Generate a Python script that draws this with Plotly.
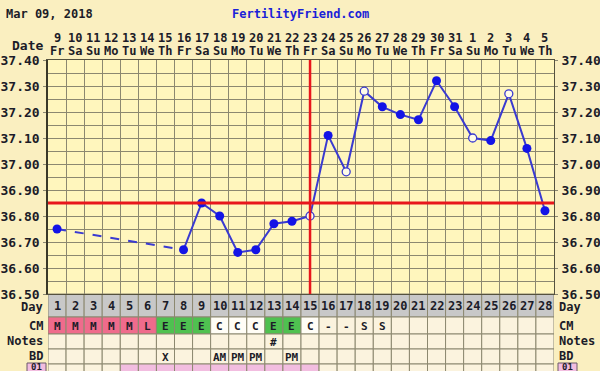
import plotly.graph_objects as go

# ---------------- data ----------------
days = list(range(1, 29))
dates = ['9', '10', '11', '12', '13', '14', '15', '16', '17', '18', '19', '20', '21', '22',
         '23', '24', '25', '26', '27', '28', '29', '30', '31', '1', '2', '3', '4', '5']
weekdays = ['Fr', 'Sa', 'Su', 'Mo', 'Tu', 'We', 'Th'] * 4
temps = [36.75, None, None, None, None, None, None, 36.67, 36.85, 36.80, 36.66, 36.67,
         36.77, 36.78, 36.80, 37.11, 36.97, 37.28, 37.22, 37.19, 37.17, 37.32, 37.22,
         37.10, 37.09, 37.27, 37.06, 36.82]
open_days = [15, 17, 18, 24, 26]
cm = ['M', 'M', 'M', 'M', 'M', 'L', 'E', 'E', 'E', 'C', 'C', 'C', 'E', 'E', 'C', '-', '-',
      'S', 'S', '', '', '', '', '', '', '', '', '']
notes = ['', '', '', '', '', '', '', '', '', '', '', '', '#', '', '', '', '', '', '', '', '',
         '', '', '', '', '', '', '']
bd = ['', '', '', '', '', '', 'X', '', '', 'AM', 'PM', 'PM', '', 'PM', '', '', '', '', '', '',
      '', '', '', '', '', '', '', '']
row01_marked = [0, 0, 0, 0, 1, 1, 1, 1, 1, 1, 1, 1, 1, 1, 1, 0, 0, 0, 0, 0, 0, 0, 0, 0, 0, 0, 0, 0]
ytick_vals = [36.50, 36.60, 36.70, 36.80, 36.90, 37.00, 37.10, 37.20, 37.30, 37.40]
ovulation_day = 15
coverline = 36.85
chart_date = 'Mar 09, 2018'
site = 'FertilityFriend.com'

# ---------------- geometry / style ----------------
W, H = 600, 371
ML, MR, MT, MB = 48, 46, 60, 77
PH = H - MT - MB
PW = W - ML - MR
def py(p):
    return (H - MB - p) / PH
def px(p):
    return (p - ML) / PW

FONT = 'DejaVu Sans Mono'
DARK = '#1c1c28'
GRID = '#8c8870'
BLUE_LINE = '#3a3ad0'
BLUE_DOT = '#1414e6'
RED = '#e8161c'
CREAM = '#fbf3de'
GRAY = '#c8c8c8'
PINK = '#ef6b8c'
GREEN = '#4fc150'
WHITE_C = '#fffdf6'
PINK01 = '#f2bde0'

fig = go.Figure()

# dashed segment over missing days, solid afterwards
fig.add_trace(go.Scatter(x=days[:8], y=temps[:8], mode='lines', connectgaps=True,
                         line=dict(color=BLUE_LINE, width=2, dash='dash'),
                         hoverinfo='skip', showlegend=False))
fig.add_trace(go.Scatter(x=days[7:], y=temps[7:], mode='lines',
                         line=dict(color=BLUE_LINE, width=2),
                         hoverinfo='skip', showlegend=False))
fx = [d for d, t in zip(days, temps) if t is not None and d not in open_days]
fy = [t for d, t in zip(days, temps) if t is not None and d not in open_days]
ox = [d for d, t in zip(days, temps) if t is not None and d in open_days]
oy = [t for d, t in zip(days, temps) if t is not None and d in open_days]
fig.add_trace(go.Scatter(x=fx, y=fy, mode='markers',
                         marker=dict(color=BLUE_DOT, size=9, line=dict(color=BLUE_DOT, width=0)),
                         showlegend=False))
fig.add_trace(go.Scatter(x=ox, y=oy, mode='markers',
                         marker=dict(color='#fffbe8', size=8, line=dict(color=BLUE_LINE, width=1.3)),
                         showlegend=False))
# invisible trace for right axis
fig.add_trace(go.Scatter(x=[days[0]], y=[ytick_vals[0]], yaxis='y2', mode='markers',
                         marker=dict(opacity=0), hoverinfo='skip', showlegend=False))

shapes = []
# coverline and ovulation line
shapes.append(dict(type='line', xref='paper', yref='y', x0=0, x1=1, y0=coverline, y1=coverline,
                   line=dict(color=RED, width=3)))
shapes.append(dict(type='line', xref='x', yref='paper', x0=ovulation_day, x1=ovulation_day,
                   y0=0, y1=1, line=dict(color=RED, width=2.5)))

# table rows
row_edges = [294, 317, 334, 349, 364, 382]
annotations = []
for i, d in enumerate(days):
    fills = [GRAY,
             {'M': PINK, 'L': PINK, 'E': GREEN, 'C': WHITE_C}.get(cm[i], CREAM),
             CREAM, CREAM,
             PINK01 if row01_marked[i] else CREAM]
    for r in range(5):
        shapes.append(dict(type='rect', xref='x', yref='paper', x0=d - 0.5, x1=d + 0.5,
                           y0=py(row_edges[r + 1]), y1=py(row_edges[r]), fillcolor=fills[r],
                           line=dict(color=GRID, width=1), layer='below'))
    texts = [str(d), cm[i], notes[i], bd[i]]
    for r, t in enumerate(texts):
        if t:
            annotations.append(dict(x=d, y=py((row_edges[r] + row_edges[r + 1]) / 2 + 0.5),
                                    xref='x', yref='paper', text='<b>%s</b>' % t,
                                    showarrow=False, xanchor='center', yanchor='middle',
                                    font=dict(family=FONT, size=12 if r == 0 else 11, color=DARK)))
    # header dates / weekdays
    annotations.append(dict(x=d, y=py(38), xref='x', yref='paper', text='<b>%s</b>' % dates[i],
                            showarrow=False, xanchor='center', yanchor='middle',
                            font=dict(family=FONT, size=12, color=DARK)))
    annotations.append(dict(x=d, y=py(51), xref='x', yref='paper', text='<b>%s</b>' % weekdays[i],
                            showarrow=False, xanchor='center', yanchor='middle',
                            font=dict(family=FONT, size=12, color=DARK)))

# row labels left and right
labels = [('Day', 307), ('CM', 326), ('Notes', 341), ('BD', 356)]
for t, yy in labels:
    annotations.append(dict(x=px(45), y=py(yy), xref='paper', yref='paper', text='<b>%s</b>' % t,
                            showarrow=False, xanchor='right', yanchor='middle',
                            font=dict(family=FONT, size=12, color=DARK)))
    annotations.append(dict(x=px(557), y=py(yy), xref='paper', yref='paper', text='<b>%s</b>' % t,
                            showarrow=False, xanchor='left', yanchor='middle',
                            font=dict(family=FONT, size=12, color=DARK)))
annotations.append(dict(x=px(45), y=py(45), xref='paper', yref='paper', text='<b>Date</b>',
                        showarrow=False, xanchor='right', yanchor='middle',
                        font=dict(family=FONT, size=13, color=DARK)))
# "01" boxes
for x0 in (27, 558):
    shapes.append(dict(type='rect', xref='paper', yref='paper', x0=px(x0), x1=px(x0 + 19),
                       y0=py(376), y1=py(363), fillcolor=PINK01,
                       line=dict(color='#6a5a6a', width=1)))
    annotations.append(dict(x=px(x0 + 9.5), y=py(367), xref='paper', yref='paper',
                            text='<b>01</b>', showarrow=False, xanchor='center', yanchor='middle',
                            font=dict(family=FONT, size=9, color=DARK)))
# title texts
annotations.append(dict(x=px(4), y=py(14), xref='paper', yref='paper', text='<b>%s</b>' % chart_date,
                        showarrow=False, xanchor='left', yanchor='middle',
                        font=dict(family=FONT, size=12, color=DARK)))
annotations.append(dict(x=px(300), y=py(14), xref='paper', yref='paper', text='<b>%s</b>' % site,
                        showarrow=False, xanchor='center', yanchor='middle',
                        font=dict(family=FONT, size=12, color='#1a22d8')))

yaxis_common = dict(range=[ytick_vals[0], ytick_vals[-1]], tickvals=ytick_vals,
                    ticktext=['<b>%.2f</b>' % v for v in ytick_vals],
                    tickfont=dict(family=FONT, size=13, color=DARK),
                    ticks='outside', ticklen=3, tickcolor=GRID, fixedrange=True,
                    zeroline=False, automargin=False)

fig.update_layout(
    width=W, height=H,
    margin=dict(l=ML, r=MR, t=MT, b=MB, pad=0, autoexpand=False),
    paper_bgcolor='#faefc0', plot_bgcolor='#fff6bd',
    showlegend=False,
    xaxis=dict(range=[0.5, 28.5], tick0=0.5, dtick=1, showticklabels=False, ticks='',
               showgrid=True, gridcolor=GRID, gridwidth=1, zeroline=False, automargin=False,
               fixedrange=True,
               showline=True, mirror=True, linecolor='#55523f', linewidth=1),
    yaxis=dict(**yaxis_common, side='left', showgrid=True, gridcolor=GRID, gridwidth=1,
               minor=dict(dtick=0.05, showgrid=True, gridcolor=GRID, gridwidth=1),
               showline=True, linecolor='#3a3828', linewidth=1.5, ticklabelstandoff=1),
    yaxis2=dict(**yaxis_common, side='right', overlaying='y', showgrid=False,
                showline=True, linecolor='#55523f', linewidth=1, ticklabelstandoff=1),
    shapes=shapes,
    annotations=annotations,
)

fig.write_html('out.html', config={'displayModeBar': False},
               post_script="document.body.style.margin='0';")
